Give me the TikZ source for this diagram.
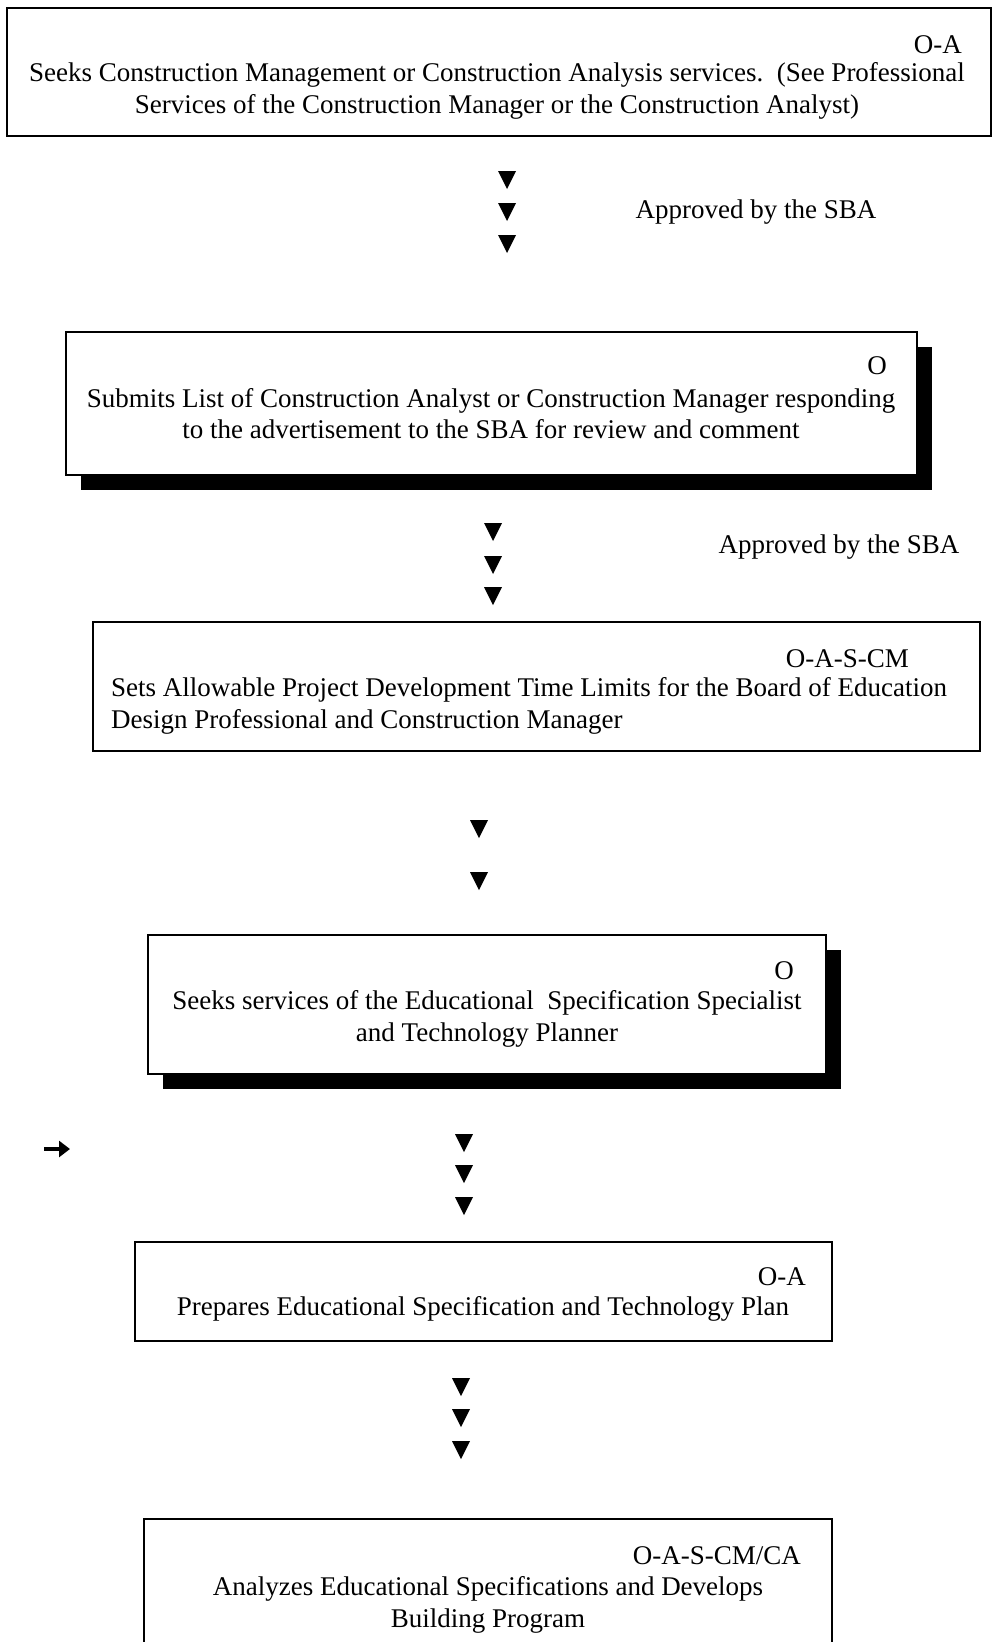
\documentclass[tikz,border=0pt]{standalone}
\usepackage{fontspec}
\setmainfont{Liberation Serif}
\usetikzlibrary{shadows,arrows.meta}
\begin{document}
\begin{tikzpicture}[x=1pt,y=-1pt,
  box/.style={draw, line width=2.4pt, fill=white, inner sep=0pt},
  shadowbox/.style={box, drop shadow={shadow xshift=15pt, shadow yshift=-15pt, fill=black, opacity=1}},
  txt/.style={font=\fontsize{27}{31.5}\selectfont, inner sep=0pt, align=center},
  code/.style={txt, anchor=east},
  dtri/.pic={\fill (-9,-9) -- (9,-9) -- (0,9) -- cycle;}]
\clip (0,0) rectangle (993,1642);

% Box 1
\node[box, minimum width=984pt, minimum height=128pt] (b1) at (499,72) {};
\node[code] (c1) at (962,45) {O-A};
\node[txt] (t1) at (497,91) {Seeks Construction Management or Construction Analysis services.\ \ (See Professional\\Services of the Construction Manager or the Construction Analyst)};

\pic at (507,180) {dtri};
\pic at (507,212) {dtri};
\pic at (507,244) {dtri};
\node[txt] (l1) at (756,212) {Approved by the SBA};

% Box 2
\node[shadowbox, minimum width=851pt, minimum height=143pt] (b2) at (491.5,403.5) {};
\node[code] (c2) at (887,366) {O};
\node[txt] (t2) at (491,413.5) {Submits List of Construction Analyst or Construction Manager responding\\to the advertisement to the SBA for review and comment};

\pic at (493,532) {dtri};
\pic at (493,565) {dtri};
\pic at (493,596) {dtri};
\node[txt] (l2) at (839,547) {Approved by the SBA};

% Box 3
\node[box, minimum width=887pt, minimum height=129pt] (b3) at (536.5,686.5) {};
\node[code] (c3) at (909,659) {O-A-S-CM};
\node[txt, align=left, anchor=west] (t3) at (111,706) {Sets Allowable Project Development Time Limits for the Board of Education\\Design Professional and Construction Manager};

\pic at (479,829) {dtri};
\pic at (479,881) {dtri};

% Box 4
\node[shadowbox, minimum width=678pt, minimum height=139pt] (b4) at (487,1004.5) {};
\node[code] (c4) at (794,971) {O};
\node[txt] (t4) at (487,1019) {Seeks services of the Educational\ \ Specification Specialist\\and Technology Planner};

\coordinate (a0) at (44,1149);
\coordinate (a1) at (70,1149);
\draw[line width=4.5pt, -{Triangle[length=11pt,width=16pt]}] (a0) -- (a1);

\pic at (464,1143) {dtri};
\pic at (464,1174) {dtri};
\pic at (464,1206) {dtri};

% Box 5
\node[box, minimum width=697pt, minimum height=99pt] (b5) at (483.5,1291.5) {};
\node[code] (c5) at (806,1277) {O-A};
\node[txt] (t5) at (483,1309) {Prepares Educational Specification and Technology Plan};

\pic at (461,1387) {dtri};
\pic at (461,1418) {dtri};
\pic at (461,1450) {dtri};

% Box 6
\node[box, minimum width=688pt, minimum height=181pt] (b6) at (488,1609.5) {};
\node[code] (c6) at (801,1556) {O-A-S-CM/CA};
\node[txt] (t6) at (488,1605) {Analyzes Educational Specifications and Develops\\Building Program};
\end{tikzpicture}
\end{document}
